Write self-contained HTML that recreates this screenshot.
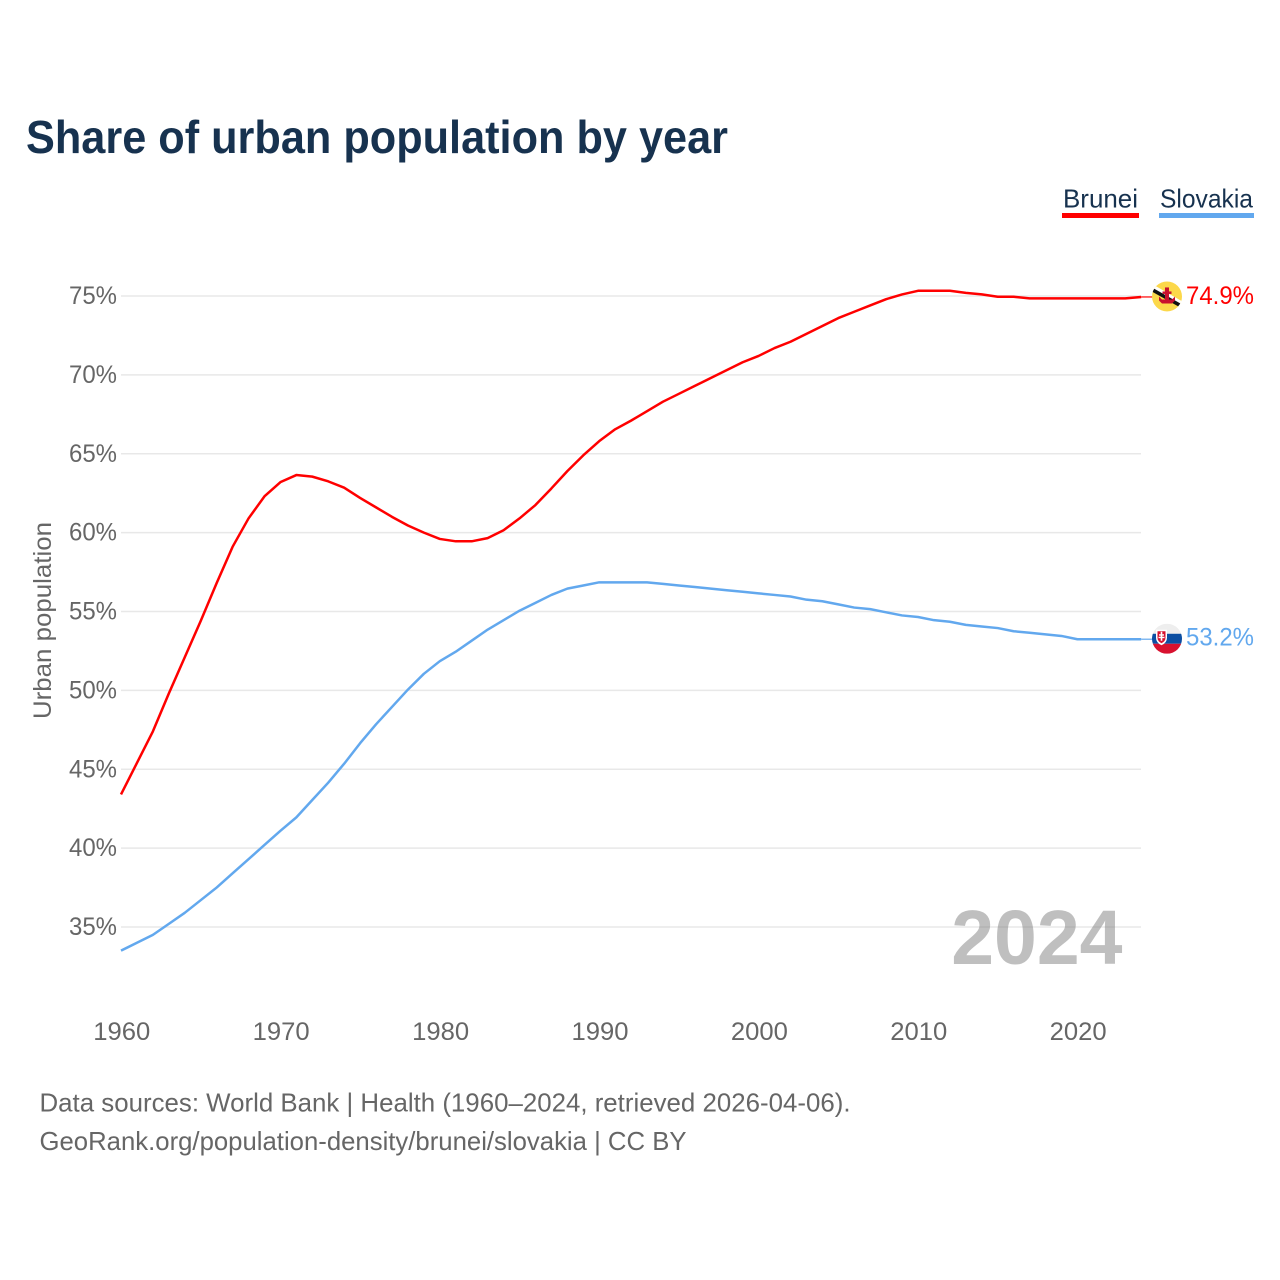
<!DOCTYPE html>
<html lang="en">
<head>
<meta charset="utf-8">
<title>Share of urban population by year</title>
<style>
  html, body { margin: 0; padding: 0; background: #fff; }
  svg { display: block; font-family: "Liberation Sans", sans-serif; }
</style>
</head>
<body>
<svg id="chart" xmlns="http://www.w3.org/2000/svg" width="1280" height="1280" viewBox="0 0 1280 1280">
  <rect width="1280" height="1280" fill="#ffffff"/>
  <defs>
    <clipPath id="flag-clip-brunei"><circle id="clip-circle-brunei" r="15"/></clipPath>
    <clipPath id="flag-clip-slovakia"><circle id="clip-circle-slovakia" r="15"/></clipPath>
  </defs>
  <text x="26" y="153" font-size="46" font-weight="700" fill="#17324f" textLength="702" lengthAdjust="spacingAndGlyphs">Share of urban population by year</text>

  <g>
    <g>
      <text x="1063" y="207.500" font-size="26" fill="#17324f" textLength="75" lengthAdjust="spacingAndGlyphs">Brunei</text>
      <rect x="1062" y="213" width="77" height="5" fill="#ff0000"/>
    </g>
    <g>
      <text x="1160" y="207.500" font-size="26" fill="#17324f" textLength="93" lengthAdjust="spacingAndGlyphs">Slovakia</text>
      <rect x="1159" y="213" width="95" height="5" fill="#62a8ee"/>
    </g>
  </g>

  <g id="grid"></g>
  <g id="y-ticks"></g>
  <g id="x-ticks"></g>
  <text transform="translate(51,719) rotate(-90)" font-size="25" fill="#666666" textLength="197" lengthAdjust="spacingAndGlyphs">Urban population</text>

  <text x="1122.500" y="964" text-anchor="end" font-size="77" font-weight="700" fill="#808080" fill-opacity="0.5">2024</text>

  <g id="series"></g>

  <text x="39.500" y="1111.500" font-size="26" fill="#666666" textLength="811" lengthAdjust="spacingAndGlyphs">Data sources: World Bank | Health (1960–2024, retrieved 2026-04-06).</text>
  <text x="39.500" y="1150" font-size="26" fill="#666666" textLength="647" lengthAdjust="spacingAndGlyphs">GeoRank.org/population-density/brunei/slovakia | CC BY</text>
</svg>
<script>
const years = [1960,1961,1962,1963,1964,1965,1966,1967,1968,1969,1970,1971,1972,1973,1974,1975,1976,1977,1978,1979,1980,1981,1982,1983,1984,1985,1986,1987,1988,1989,1990,1991,1992,1993,1994,1995,1996,1997,1998,1999,2000,2001,2002,2003,2004,2005,2006,2007,2008,2009,2010,2011,2012,2013,2014,2015,2016,2017,2018,2019,2020,2021,2022,2023,2024];
const bruneiValues = [43.4,45.4,47.4,49.8,52.1,54.4,56.8,59.1,60.9,62.3,63.2,63.65,63.55,63.25,62.85,62.2,61.6,61.0,60.45,60.0,59.6,59.45,59.45,59.65,60.15,60.9,61.75,62.8,63.9,64.9,65.8,66.55,67.1,67.7,68.3,68.8,69.3,69.8,70.3,70.8,71.2,71.7,72.1,72.6,73.1,73.6,74.0,74.4,74.8,75.1,75.33,75.33,75.33,75.2,75.1,74.95,74.95,74.85,74.85,74.85,74.85,74.85,74.85,74.85,74.94];
const slovakiaValues = [33.5,34.0,34.5,35.2,35.9,36.7,37.5,38.4,39.3,40.2,41.1,41.95,43.05,44.15,45.35,46.65,47.85,48.95,50.05,51.05,51.85,52.45,53.15,53.85,54.45,55.05,55.55,56.05,56.45,56.65,56.85,56.85,56.85,56.85,56.75,56.65,56.55,56.45,56.35,56.25,56.15,56.05,55.95,55.75,55.65,55.45,55.25,55.15,54.95,54.75,54.65,54.45,54.35,54.15,54.05,53.95,53.75,53.65,53.55,53.45,53.24,53.24,53.24,53.24,53.24];
const yTickValues = [35,40,45,50,55,60,65,70,75];
const xTickValues = [1960,1970,1980,1990,2000,2010,2020];

const SVG_NS = 'http://www.w3.org/2000/svg';
const xScale = function (year) { return 121 + (year - 1960) * 15.94; };
const yScale = function (value) { return 296 + (75 - value) * 15.775; };

function make(tag, parent, attrs) {
  const el = document.createElementNS(SVG_NS, tag);
  Object.keys(attrs).forEach(function (k) { el.setAttribute(k, attrs[k]); });
  parent.appendChild(el);
  return el;
}

const grid = document.getElementById('grid');
const yTicks = document.getElementById('y-ticks');
const xTicks = document.getElementById('x-ticks');
const series = document.getElementById('series');

yTickValues.forEach(function (v) {
  const line = make('line', grid, { x1: 121, x2: 1141, y1: yScale(v), y2: yScale(v), stroke: '#e8e8e8', 'stroke-width': 1.5 });
  
  
  const label = make('text', yTicks, { x: 117, y: yScale(v) + 8, 'text-anchor': 'end', 'font-size': 25, fill: '#666666', textLength: 48, lengthAdjust: 'spacingAndGlyphs' });
  
  
  label.textContent = v + '%';
});

xTickValues.forEach(function (year) {
  const label = make('text', xTicks, { x: xScale(year) + 0.8, y: 1040, 'text-anchor': 'middle', 'font-size': 25, fill: '#666666', textLength: 57, lengthAdjust: 'spacingAndGlyphs' });
  
  
  label.textContent = year;
});

function drawSeries(name, values, color, labelOffset) {
  const group = make('g', series, {});
  
  

  const pts = values.map(function (v, i) { return xScale(years[i]).toFixed(2) + ',' + yScale(v).toFixed(2); }).join(' ');
  const path = make('polyline', group, { points: pts, fill: 'none', stroke: color, 'stroke-width': 2.5, 'stroke-linejoin': 'round' });
  
  

  const last = values[values.length - 1];
  const yEnd = yScale(last);
  const xEnd = xScale(years[years.length - 1]);
  const connector = make('line', group, { x1: xEnd, x2: 1153, y1: yEnd, y2: yEnd, stroke: color, 'stroke-width': 1.5, 'stroke-opacity': 0.8 });
  
  

  const valueLabel = make('text', group, { x: 1186, y: yEnd + labelOffset, 'font-size': 25, fill: color, textLength: 68, lengthAdjust: 'spacingAndGlyphs' });
  
  
  valueLabel.textContent = last.toFixed(1) + '%';
  return yEnd;
}

function flagGroup(name, yCenter) {
  document.getElementById('clip-circle-' + name).setAttribute('cx', 1167);
  document.getElementById('clip-circle-' + name).setAttribute('cy', yCenter);
  const group = make('g', series, { 'clip-path': 'url(#flag-clip-' + name + ')' });
  
  
  return group;
}

const bruneiY = drawSeries('brunei', bruneiValues, '#ff0000', 7) - 0.5;
const slovakiaY = drawSeries('slovakia', slovakiaValues, '#62a8ee', 6) - 0.5;

const bFlag = flagGroup('brunei', bruneiY);
make('rect', bFlag, { x: 1152, y: bruneiY - 15, width: 30, height: 30, fill: '#fcd84a' });
make('polygon', bFlag, { points: [1150, bruneiY - 8, 1153, bruneiY - 12, 1184, bruneiY + 6, 1182, bruneiY + 11].join(' '), fill: '#ffffff' });
make('polygon', bFlag, { points: [1150, bruneiY - 6, 1152, bruneiY - 9, 1184, bruneiY + 9, 1182, bruneiY + 12].join(' '), fill: '#111111' });
make('path', bFlag, { d: 'M1159 ' + (bruneiY + 0) + 'l3 3h10l3-3v4l-3 3h-10l-3-3z', fill: '#c8102e' });
make('rect', bFlag, { x: 1165, y: bruneiY - 9, width: 4, height: 15, fill: '#c8102e' });
make('rect', bFlag, { x: 1162.500, y: bruneiY - 5, width: 9, height: 2.500, fill: '#c8102e' });

const sFlag = flagGroup('slovakia', slovakiaY);
make('rect', sFlag, { x: 1152, y: slovakiaY - 15, width: 30, height: 10, fill: '#eeeeee' });
make('rect', sFlag, { x: 1152, y: slovakiaY - 5, width: 30, height: 10, fill: '#0b4ea2' });
make('rect', sFlag, { x: 1152, y: slovakiaY + 5, width: 30, height: 10, fill: '#d8112f' });
make('path', sFlag, { d: 'M1156 ' + (slovakiaY - 9) + 'h11v8q0 5-5.500 7.500q-5.500-2.500-5.500-7.500z', fill: '#ffffff' });
make('path', sFlag, { d: 'M1157.500 ' + (slovakiaY - 7.500) + 'h8v6.500q0 3.500-4 5.500q-4-2-4-5.500z', fill: '#d8112f' });
make('rect', sFlag, { x: 1160.700, y: slovakiaY - 7, width: 1.600, height: 9, fill: '#ffffff' });
make('rect', sFlag, { x: 1159, y: slovakiaY - 4.500, width: 5, height: 1.400, fill: '#ffffff' });
make('rect', sFlag, { x: 1158.500, y: slovakiaY - 2, width: 6, height: 1.400, fill: '#ffffff' });
</script>
</body>
</html>
